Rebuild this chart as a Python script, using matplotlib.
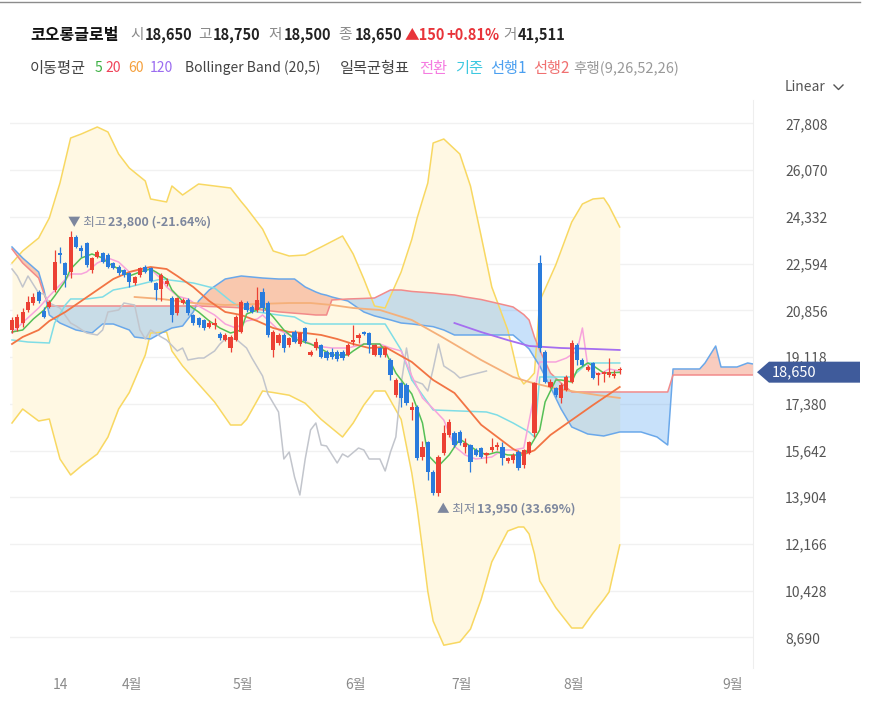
import numpy as np
import matplotlib
matplotlib.use('Agg')
import matplotlib.pyplot as plt
from matplotlib.patches import Polygon
from matplotlib.lines import Line2D

plt.rcParams['font.family'] = ['Noto Sans CJK KR', 'DejaVu Sans']

# ---- daily candles (bar index 0..114) ----
opens = [20126, 20188, 20374, 20870, 21118, 21552, 20845, 20970, 21614, 22978,
         22606, 22296, 23598, 23164, 23350, 22358, 22854, 22978, 22916, 22606,
         22482, 22358, 22234, 21862, 22172, 22482, 22420, 21862, 21650, 21850,
         21305, 20746, 21144, 21242, 20684, 20560, 20498, 20250, 20300, 19977,
         19754, 19444, 19754, 20064, 21130, 20994, 20870, 21552, 21118, 19382,
         19630, 19940, 19568, 20064, 19600, 20190, 19200, 19444, 19568, 19320,
         19320, 19320, 19320, 19196, 19692, 19816, 20064, 20002, 19196, 19444,
         19200, 19010, 17708, 18142, 18080, 17150, 17274, 15400, 15950, 14856,
         14050, 15538, 16220, 16282, 16344, 15786, 15848, 15662, 15724, 15476,
         15662, 15786, 15786, 15265, 15290, 15600, 15100, 15538, 16300, 22606,
         19320, 18018, 17956, 17584, 17894, 18204, 19568, 19010, 18638, 18886,
         18452, 18490, 18452, 18415, 18650]
highs = [20600, 20720, 20932, 21390, 21500, 21614, 20990, 21240, 23102, 23226,
         22668, 23800, 23660, 23290, 23412, 22854, 23102, 23040, 22978, 22650,
         22544, 22400, 22296, 22150, 22482, 22530, 22480, 21920, 22240, 22050,
         21400, 21360, 21320, 21300, 20720, 20600, 20540, 20498, 20560, 20050,
         20000, 19940, 20700, 21250, 21200, 21050, 21738, 21676, 21200, 20126,
         20000, 20000, 19880, 20120, 20060, 20250, 19380, 19816, 19620, 19380,
         19444, 19380, 19380, 19630, 20312, 20002, 20100, 20064, 19620, 19500,
         19500, 19070, 18330, 18200, 18140, 17460, 17330, 15980, 16000, 14900,
         15480, 16592, 16800, 16350, 16400, 16096, 15900, 15720, 15780, 15600,
         16096, 15972, 15972, 15414, 15550, 15660, 15700, 16000, 18200, 22916,
         19400, 18300, 18000, 18140, 18450, 19754, 19650, 19070, 18820, 18950,
         18560, 18600, 19072, 18638, 18750]
lows = [20000, 20080, 20250, 20808, 21050, 21118, 20590, 20930, 21552, 22606,
        21738, 22048, 23160, 22854, 22480, 22234, 22792, 22600, 22420, 22380,
        22172, 22110, 21738, 21800, 22110, 22250, 21900, 21242, 21200, 21750,
        20436, 20700, 21100, 20700, 20300, 20250, 20130, 20188, 20180, 19750,
        19700, 19320, 19700, 20000, 20800, 20750, 20808, 20808, 19850, 19134,
        19570, 19320, 19500, 19640, 19540, 19650, 19150, 19382, 19080, 19010,
        19034, 18990, 19010, 19150, 19568, 19630, 19950, 19258, 19150, 19140,
        19130, 18266, 17650, 17274, 17340, 16778, 15300, 15300, 14550, 13980,
        13950, 15476, 16150, 15790, 15850, 15538, 14856, 15420, 15360, 15166,
        15600, 15662, 15104, 15166, 15166, 14920, 15000, 15500, 16150, 19300,
        18150, 17950, 17650, 17398, 17850, 18142, 18824, 18780, 18600, 18300,
        18080, 18204, 18390, 18328, 18500]
closes = [20498, 20622, 20808, 21180, 21366, 21217, 20622, 21180, 22668, 22904,
          22172, 23598, 23226, 23077, 22544, 22792, 23040, 22668, 22482, 22420,
          22234, 22172, 21924, 22110, 22420, 22296, 21950, 21614, 22170, 21950,
          20684, 21305, 21242, 20746, 20374, 20312, 20188, 20374, 20400, 19816,
          19940, 19878, 20622, 21180, 20870, 20808, 21242, 20932, 19940, 20064,
          19940, 19444, 19816, 19692, 20000, 19700, 19320, 19692, 19134, 19072,
          19134, 19034, 19072, 19568, 19754, 19940, 19977, 19568, 19568, 19196,
          19440, 18452, 18266, 17584, 17398, 17274, 15352, 15780, 14860, 14050,
          15414, 16282, 16716, 15848, 15910, 15910, 15228, 15476, 15414, 15538,
          15786, 15848, 15352, 15352, 15476, 14980, 15662, 15972, 18150, 19444,
          18204, 18204, 17708, 18080, 18390, 19630, 19010, 18824, 18762, 18328,
          18539, 18576, 18576, 18500, 18650]
volume = 41511

# ---- moving averages ----
ma5_idx = [0, 2, 4, 6, 8, 10, 11, 13, 15, 17, 18, 20, 22, 24, 26, 27, 29, 30, 32, 35,
           37, 39, 41, 43, 44, 46, 47, 49, 51, 53, 56, 58, 60, 63, 64, 66, 69, 70, 72, 75,
           77, 78, 80, 82, 84, 87, 89, 91, 93, 96, 97, 99, 100, 102, 103, 105, 106, 108,
           109, 111, 114]
ma5_val = [20052, 20126, 20535, 20870, 21391, 21949, 22395, 22804, 22953, 22804, 22618,
           22395, 22135, 22284, 22395, 22284, 22023, 21614, 21205, 20796, 20461, 20200,
           20014, 20126, 20721, 20870, 21019, 20610, 20126, 19791, 19605, 19419, 19196,
           19196, 19345, 19605, 19605, 19345, 18527, 17745, 16666, 15476, 15067, 15476,
           16071, 15662, 15476, 15587, 15476, 15476, 15736, 16406, 17448, 18266, 18266,
           18192, 18638, 18899, 18800, 18527, 18550]
ma20_idx = [0, 2, 5, 7, 10, 13, 16, 19, 22, 25, 26, 29, 31, 34, 37, 40, 43, 46, 49, 52,
            55, 58, 61, 64, 67, 70, 75, 79, 83, 88, 94, 96, 98, 101, 105, 109, 114]
ma20_val = [19605, 19866, 20126, 20461, 20796, 21205, 21614, 22023, 22284, 22432, 22470,
            22395, 22135, 21726, 21205, 20796, 20684, 20461, 20200, 20052, 20014, 19940,
            19791, 19605, 19456, 19494, 18936, 18266, 17782, 16600, 15700, 15500, 15650,
            16220, 16778, 17336, 18006]
ma60_idx = [23, 28, 34, 40, 46, 52, 56, 60, 64, 69, 75, 81, 88, 94, 97, 102, 106, 110, 114]
ma60_val = [21354, 21280, 21130, 21056, 21093, 21130, 21130, 21056, 20944, 20870, 20498,
            19828, 19010, 18378, 18192, 17950, 17820, 17700, 17597]
ma120_idx = [83, 88, 93, 97, 103, 109, 114]
ma120_val = [20386, 20050, 19750, 19531, 19456, 19420, 19382]

# ---- Bollinger band (20,5) ----
bb_idx = [0, 2, 5, 7, 9, 11, 13, 16, 18, 20, 22, 25, 26, 29, 30, 32, 35, 38, 41, 43,
          44, 47, 49, 52, 55, 58, 62, 64, 66, 68, 70, 73, 75, 76, 77, 78, 79, 81, 84, 86,
          88, 90, 93, 95, 96, 97, 98, 99, 102, 105, 107, 109, 111, 112, 114]
bb_upper = [22618, 23065, 23548, 24292, 25594, 27268, 27417, 27678, 27492, 26673, 26152,
            25669, 25000, 24888, 25483, 25148, 25557, 25483, 25408, 24900, 24664, 23883,
            23065, 22879, 22916, 23214, 23623, 22953, 22023, 21019, 20944, 22284, 23500,
            24292, 24950, 25594, 27082, 27231, 26673, 25483, 23623, 21726, 20126, 18415,
            18117, 18300, 18527, 21205, 22544, 24143, 24813, 25000, 25036, 24739, 23958]
bb_lower = [16666, 17187, 16741, 16815, 15327, 14732, 15067, 15513, 16146, 17187, 17800,
            19196, 20014, 20052, 19345, 18787, 18117, 17448, 16592, 16592, 16800, 17857,
            17800, 17700, 17400, 16800, 16146, 16666, 17336, 17857, 17857, 16800, 14800,
            13500, 11979, 10400, 9300, 8400, 8519, 9000, 10100, 11500, 12649, 12798, 12798,
            12537, 11800, 10789, 9800, 9040, 9040, 9598, 10100, 10380, 12128]

# ---- Ichimoku (9,26,52,26) ----
tenkan_idx = [0, 2, 5, 7, 10, 11, 13, 14, 16, 18, 20, 22, 24, 26, 28, 29, 31, 33, 35, 38,
              40, 42, 44, 46, 47, 50, 53, 55, 57, 60, 63, 66, 69, 71, 73, 75, 77, 79, 81, 83,
              85, 87, 90, 92, 94, 96, 98, 99, 102, 104, 106, 107, 108, 110, 112, 114]
tenkan_val = [20015, 20400, 20944, 21391, 22005, 22209, 22209, 22284, 22618, 22804, 22656,
              22284, 22358, 22395, 22023, 21726, 21391, 21280, 21019, 20684, 20349, 20200,
              20461, 20535, 20684, 20126, 19865, 19717, 19531, 19456, 19456, 19605, 19605,
              19456, 19345, 18415, 17596, 17200, 16778, 15800, 15476, 15327, 15401, 15662,
              15662, 15736, 17745, 18936, 18936, 19084, 19345, 20200, 18787, 18452, 18676,
              18601]
kijun_idx = [0, 3, 7, 8, 10, 11, 14, 17, 19, 22, 25, 28, 31, 34, 37, 38, 41, 43, 46, 50,
             53, 55, 56, 70, 73, 75, 79, 89, 91, 94, 97, 98, 99, 105, 108, 114]
kijun_val = [19754, 19679, 19642, 20386, 21056, 21280, 21280, 21354, 21614, 21726, 21875,
             22023, 21949, 21875, 21726, 21688, 21205, 20944, 20796, 20684, 20610, 20386,
             20349, 20349, 19382, 18266, 17150, 17076, 16964, 16666, 16331, 16146, 18378,
             18378, 18899, 18899]
span_idx = [0, 2, 5, 6, 7, 9, 12, 15, 17, 19, 22, 23, 26, 28, 30, 32, 34, 35, 37, 40, 43,
            47, 50, 53, 55, 57, 58, 59, 60, 63, 66, 68, 71, 73, 75, 79, 81, 83, 85, 88, 90,
            93, 94, 96, 97, 98, 99, 101, 103, 105, 108, 111, 114, 118, 121, 123, 124, 129,
            130, 132, 133, 136, 138, 139]
span1 = [23214, 22804, 22284, 21614, 20684, 20386, 20126, 20014, 20349, 20349, 20126, 19865,
         19791, 20014, 20200, 20275, 20796, 21205, 21614, 22023, 22135, 22060, 22023, 22023,
         21726, 21540, 21465, 21420, 21354, 21205, 20796, 20650, 20500, 20386, 20350, 20250,
         20126, 19940, 19940, 19940, 19940, 19940, 19940, 19605, 19420, 19100, 18787, 18006,
         17187, 16518, 16257, 16183, 16332, 16332, 16146, 15848, 18676, 18676, 18899, 19530,
         18750, 18750, 18899, 18862]
span2 = [23139, 22618, 22060, 21465, 21019, 21019, 21019, 21019, 21019, 21019, 21019, 21019,
         21019, 21019, 21019, 21019, 21019, 21019, 21000, 20980, 20950, 20870, 20800, 20750,
         20720, 20684, 20684, 20684, 21242, 21280, 21300, 21317, 21614, 21614, 21560, 21503,
         21460, 21428, 21354, 21260, 21168, 21030, 20982, 20700, 20498, 19865, 19382, 18527,
         18155, 17820, 17820, 17820, 17820, 17820, 17820, 17820, 18452, 18452, 18452, 18452,
         18452, 18452, 18452, 18452]
chikou_idx = [0, 1, 2, 3, 5, 6, 7, 9, 11, 12, 14, 16, 17, 18, 20, 21, 23, 24, 25, 26, 28,
              29, 31, 32, 33, 35, 36, 38, 39, 40, 42, 44, 45, 47, 48, 50, 51, 52, 53, 54, 55,
              56, 57, 58, 59, 61, 62, 63, 65, 66, 67, 69, 70, 71, 72, 73, 74, 75, 77, 78, 79,
              80, 81, 83, 84, 86, 89]
chikou_val = [22395, 22135, 21726, 22135, 21500, 21465, 21130, 20944, 20386, 20275, 20014,
              19940, 20126, 20796, 20870, 21130, 21056, 20126, 19791, 20126, 19865, 19754,
              19345, 19456, 19010, 19084, 19084, 19345, 19605, 19791, 19791, 19456, 19084,
              18415, 17745, 17076, 15327, 15587, 14658, 13988, 15327, 16406, 16666, 15848,
              15811, 15178, 15513, 15401, 15736, 15662, 15327, 15327, 14881, 15587, 16146,
              18117, 19456, 18266, 18117, 17857, 18676, 19605, 18787, 18527, 18341, 18452,
              18601]

# ---- axis labels ----
yticks = [8690, 10428, 12166, 13904, 15642, 17380, 19118, 20856, 22594, 24332, 26070, 27808]
xtick_labels = ['14', '4월', '5월', '6월', '7월', '8월', '9월']
xtick_pos = [9.0, 22.5, 43.3, 64.5, 84.4, 105.4, 135.1]
stock_name = '코오롱글로벌'

# ---- layout ----
W, H = 871, 723
fig = plt.figure(figsize=(W / 100, H / 100), dpi=100)


def fx(px):
    return px / W


def fy(py):
    return 1 - py / H


ax = fig.add_axes([fx(10), fy(668), fx(753) - fx(10), fy(100) - fy(668)])
ax.set_xlim(-0.375, 139.0)
ax.set_ylim(7552, 28682)

UP, DOWN = '#ec4134', '#2a7bdc'

# bollinger band
ax.fill_between(bb_idx, bb_upper, bb_lower, color='#fff8e3', lw=0, zorder=1)
ax.plot(bb_idx, bb_upper, color='#f8d862', lw=1.1, zorder=2)
ax.plot(bb_idx, bb_lower, color='#f8d862', lw=1.1, zorder=2)

# ichimoku cloud
s1 = np.array(span1)
s2 = np.array(span2)
ax.fill_between(span_idx, s1, s2, where=s1 >= s2, interpolate=True,
                color='#f08060', alpha=0.4, lw=0, zorder=1.5)
ax.fill_between(span_idx, s1, s2, where=s1 < s2, interpolate=True,
                color='#5aa5f0', alpha=0.33, lw=0, zorder=1.5)
ax.plot(span_idx, span1, color='#6aa8ea', lw=1.1, zorder=2.5)
ax.plot(span_idx, span2, color='#f28a8a', lw=1.1, zorder=2.5)
ax.plot(chikou_idx, chikou_val, color='#c2c5cc', lw=1.1, zorder=2.5)
ax.plot(kijun_idx, kijun_val, color='#7fdde6', lw=1.1, zorder=2.5)
ax.plot(tenkan_idx, tenkan_val, color='#f7a3dc', lw=1.1, zorder=2.6)

# moving averages
ax.plot(ma120_idx, ma120_val, color='#a56ef0', lw=1.3, zorder=3)
ax.plot(ma60_idx, ma60_val, color='#f5b07a', lw=1.3, zorder=3)
ax.plot(ma20_idx, ma20_val, color='#f27444', lw=1.3, zorder=3)
ax.plot(ma5_idx, ma5_val, color='#56c056', lw=1.1, zorder=3.1)

# candles
for i, (o, h, l, c) in enumerate(zip(opens, highs, lows, closes)):
    col = UP if c >= o else DOWN
    ax.vlines(i, l, h, color=col, lw=0.9, zorder=4)
    ax.bar(i, max(abs(c - o), 40), bottom=min(o, c), width=0.78, color=col, lw=0, zorder=4)

# high / low markers
imax = int(np.argmax(highs))
imin = int(np.argmin(lows))
last = closes[-1]
pct_hi = (last - highs[imax]) / highs[imax] * 100
pct_lo = (last - lows[imin]) / lows[imin] * 100
lab_col = '#7d879e'
ax.annotate('▼ 최고', (imax, highs[imax]), xytext=(-2, 6.5), textcoords='offset points',
            fontsize=9, color=lab_col, va='center', ha='left', zorder=6)
ax.annotate(f'{highs[imax]:,} ({pct_hi:.2f}%)', (imax, highs[imax]), xytext=(27, 6.5),
            textcoords='offset points', fontsize=9, color=lab_col, fontweight='bold',
            va='center', ha='left', zorder=6)
ax.annotate('▲ 최저', (imin, lows[imin]), xytext=(-1, -9.5), textcoords='offset points',
            fontsize=9, color=lab_col, va='center', ha='left', zorder=6)
ax.annotate(f'{lows[imin]:,} ({pct_lo:.2f}%)', (imin, lows[imin]), xytext=(28, -9.5),
            textcoords='offset points', fontsize=9, color=lab_col, fontweight='bold',
            va='center', ha='left', zorder=6)

# axes styling
ax.set_yticks(yticks)
ax.set_yticklabels([f'{v:,}' for v in yticks])
ax.yaxis.tick_right()
ax.tick_params(axis='y', length=0, pad=23, labelsize=10, labelcolor='#555555')
ax.set_xticks(xtick_pos)
ax.set_xticklabels(xtick_labels)
ax.tick_params(axis='x', length=0, pad=7, labelsize=10, labelcolor='#8a8a8a')
ax.grid(axis='y', color='#f1f1f1', lw=1)
ax.set_axisbelow(True)
for s in ['top', 'left', 'bottom']:
    ax.spines[s].set_visible(False)
ax.spines['right'].set_color('#eeeeee')

# price tag on the right (it sits partly over the nearest tick label, as in the source)
_, ty = ax.transData.transform((0, last))
ty -= 2.5
tip, x0, x1, hh = 757, 769, 860, 10.5
pts = [(tip, ty), (x0, ty + hh), (x1, ty + hh), (x1, ty - hh), (x0, ty - hh)]
fig.add_artist(Polygon([(px / W, py / H) for px, py in pts], closed=True,
                       transform=fig.transFigure, fc='#3f5b9b', ec='none', zorder=10))
fig.text(772 / W, ty / H, f'{last:,}', color='white', fontsize=10.5, va='center', ha='left',
         zorder=11)

# top border
fig.add_artist(Line2D([0, 860 / W], [fy(2), fy(2)], color='#8c8c8c', lw=1))

# header row 1
chg = closes[-1] - closes[-2]
chg_pct = chg / closes[-2] * 100
y1 = fy(35)
fig.text(fx(30), y1, stock_name, fontsize=11.5, fontweight='bold', color='#111111', va='center')
row1 = [(130, '시', False, '#8a8a8a'), (145, f'{opens[-1]:,}', True, '#222222'),
        (198, '고', False, '#8a8a8a'), (213, f'{highs[-1]:,}', True, '#222222'),
        (268, '저', False, '#8a8a8a'), (284, f'{lows[-1]:,}', True, '#222222'),
        (338, '종', False, '#8a8a8a'), (355, f'{closes[-1]:,}', True, '#222222'),
        (405, f'▲{chg:,}', True, '#e8343a'), (446, f'+{chg_pct:.2f}%', True, '#e8343a'),
        (503, '거', False, '#8a8a8a'), (518, f'{volume:,}', True, '#222222')]
for px, s, bold, col in row1:
    fig.text(fx(px), y1, s, fontsize=10.5, fontweight='bold' if bold else 'normal',
             color=col, va='center')

# header row 2 (legend)
y2 = fy(68)
row2 = [(30, '이동평균', '#444444', 11), (95, '5', '#3cb043', 10), (105, '20', '#f0445a', 10),
        (128, '60', '#f5a03c', 10), (150, '120', '#9b6cf0', 10),
        (185, 'Bollinger Band (20,5)', '#444444', 10), (340, '일목균형표', '#444444', 11),
        (419, '전환', '#f57be0', 11), (455, '기준', '#3cc8e0', 11), (490, '선행1', '#4a9ff0', 11),
        (533, '선행2', '#f07070', 11), (573, '후행(9,26,52,26)', '#999999', 10.5)]
for px, s, col, fs in row2:
    fig.text(fx(px), y2, s, fontsize=fs, color=col, va='center')

# scale selector
fig.text(fx(785), fy(87), 'Linear', fontsize=10, color='#555555', va='center')
fig.add_artist(Line2D([fx(834), fx(838.5), fx(843)], [fy(85), fy(89.5), fy(85)],
                      color='#555555', lw=1))

fig.savefig('out.png', dpi=100)
